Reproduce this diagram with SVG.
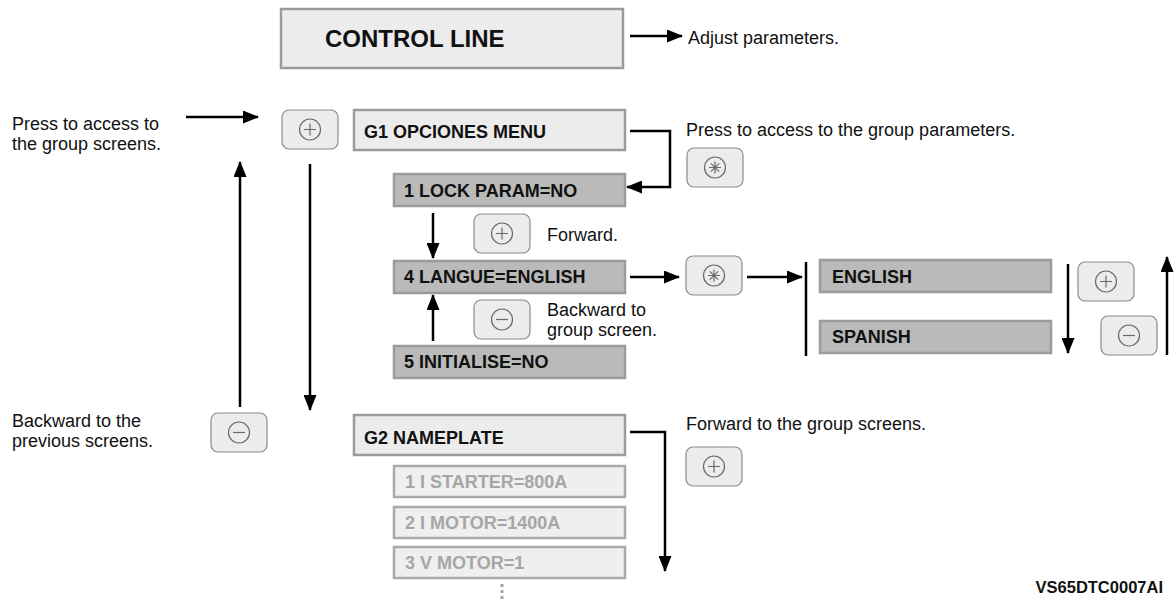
<svg xmlns="http://www.w3.org/2000/svg" xmlns:xlink="http://www.w3.org/1999/xlink" width="1176" height="601" viewBox="0 0 1176 601">
<style>
.lbox{fill:#ececec;stroke:#9b9b9b;stroke-width:2.5}
.dbox{fill:#bababa;stroke:#9b9b9b;stroke-width:2.5}
.gbox{fill:#efefef;stroke:#aaaaaa;stroke-width:2.5}
.btn{fill:#ececec;stroke:#8a8a8a;stroke-width:1.2}
.ring{fill:none;stroke:#6a6a6a;stroke-width:1.2}
.sym{fill:none;stroke:#6a6a6a;stroke-width:1.2}
.lbl{font-family:"Liberation Sans",Arial,sans-serif;font-weight:bold;font-size:18px;fill:#111}
.glbl{font-family:"Liberation Sans",Arial,sans-serif;font-weight:bold;font-size:18px;fill:#a6a6a6}
.txt{font-family:"Liberation Sans",Arial,sans-serif;font-size:18px;fill:#111}
.con{fill:none;stroke:#000;stroke-width:2.5}
.arr{fill:none;stroke:#000;stroke-width:2.5;marker-end:url(#ah)}
</style>
<defs>
<marker id="ah" markerWidth="16" markerHeight="13" refX="15" refY="6.5" orient="auto" markerUnits="userSpaceOnUse"><path d="M0,0 L16,6.5 L0,13 z" fill="#000"/></marker>
<g id="bplus"><rect x="0" y="0" width="56" height="39" rx="7" class="btn"/><circle cx="28" cy="19.5" r="10.5" class="ring"/><path d="M22,19.5 H34 M28,13.5 V25.5" class="sym"/></g>
<g id="bminus"><rect x="0" y="0" width="56" height="39" rx="7" class="btn"/><circle cx="28" cy="19.5" r="10.5" class="ring"/><path d="M22,19.5 H34" class="sym"/></g>
<g id="bstar"><rect x="0" y="0" width="56" height="39" rx="7" class="btn"/><circle cx="28" cy="19.5" r="10.5" class="ring"/><path d="M22,19.5 H34 M28,13.5 V25.5 M23.8,15.3 L32.2,23.7 M32.2,15.3 L23.8,23.7" class="sym"/></g>
</defs>
<rect width="1176" height="601" fill="#fff"/>

<g id="control-line"><rect x="281" y="9" width="342" height="59" class="lbox"/><text x="325" y="47" class="lbl" style="font-size:24px">CONTROL LINE</text></g>
<g id="adjust-label"><text x="688" y="44" class="txt">Adjust parameters.</text></g>

<g id="press-access-label"><text x="12" y="130" class="txt">Press to access to</text><text x="12" y="150" class="txt">the group screens.</text></g>
<g id="btn-plus-left"><use xlink:href="#bplus" x="282" y="110"/></g>
<g id="g1"><rect x="354" y="110" width="271" height="40" class="lbox"/><text x="364" y="138" class="lbl">G1 OPCIONES MENU</text></g>
<g id="group-params-label"><text x="686" y="136" class="txt">Press to access to the group parameters.</text></g>
<g id="btn-star-g1"><use xlink:href="#bstar" x="687" y="148"/></g>

<g id="lock-param"><rect x="394" y="174" width="231" height="32" class="dbox"/><text x="404" y="197" class="lbl">1 LOCK PARAM=NO</text></g>
<g id="btn-plus-fwd"><use xlink:href="#bplus" x="474" y="214"/></g>
<g id="forward-label"><text x="547" y="241" class="txt">Forward.</text></g>
<g id="langue"><rect x="394" y="261" width="231" height="32" class="dbox"/><text x="404" y="283" class="lbl">4 LANGUE=ENGLISH</text></g>
<g id="btn-minus-back"><use xlink:href="#bminus" x="474" y="300"/></g>
<g id="backward-group-label"><text x="547" y="316" class="txt">Backward to</text><text x="547" y="336" class="txt">group screen.</text></g>
<g id="initialise"><rect x="394" y="346" width="231" height="32" class="dbox"/><text x="404" y="368" class="lbl">5 INITIALISE=NO</text></g>

<g id="btn-star-langue"><use xlink:href="#bstar" x="686" y="256"/></g>
<g id="english"><rect x="820" y="260" width="231" height="32" class="dbox"/><text x="832" y="283" class="lbl">ENGLISH</text></g>
<g id="spanish"><rect x="820" y="321" width="231" height="32" class="dbox"/><text x="832" y="343" class="lbl">SPANISH</text></g>
<g id="btn-plus-right"><use xlink:href="#bplus" x="1078" y="262"/></g>
<g id="btn-minus-right"><use xlink:href="#bminus" x="1101" y="316"/></g>

<g id="backward-prev-label"><text x="12" y="427" class="txt">Backward to the</text><text x="12" y="447" class="txt">previous screens.</text></g>
<g id="btn-minus-left"><use xlink:href="#bminus" x="211" y="413"/></g>
<g id="g2"><rect x="354" y="415" width="271" height="40" class="lbox"/><text x="364" y="444" class="lbl">G2 NAMEPLATE</text></g>
<g id="forward-group-label"><text x="686" y="430" class="txt">Forward to the group screens.</text></g>
<g id="btn-plus-g2"><use xlink:href="#bplus" x="686" y="447"/></g>
<g id="starter"><rect x="394" y="466" width="231" height="31" class="gbox"/><text x="405" y="488" class="glbl">1 I STARTER=800A</text></g>
<g id="motor-i"><rect x="394" y="507" width="231" height="31" class="gbox"/><text x="405" y="529" class="glbl">2 I MOTOR=1400A</text></g>
<g id="motor-v"><rect x="394" y="547" width="231" height="31" class="gbox"/><text x="405" y="569" class="glbl">3 V MOTOR=1</text></g>
<g id="more-dots" fill="#a6a6a6"><rect x="500.5" y="584" width="3" height="3"/><rect x="500.5" y="590" width="3" height="3"/><rect x="500.5" y="596" width="3" height="3"/></g>
<g id="ref-code"><text x="1163" y="593" class="lbl" style="font-size:16.5px" text-anchor="end">VS65DTC0007AI</text></g>

<g id="connectors">
<line x1="630" y1="36" x2="682" y2="36" class="arr"/>
<line x1="186" y1="117" x2="258" y2="117" class="arr"/>
<line x1="240" y1="407" x2="240" y2="162" class="arr"/>
<line x1="310" y1="164" x2="310" y2="410" class="arr"/>
<polyline points="630,131 670,131 670,187 627,187" class="arr"/>
<line x1="433" y1="213" x2="433" y2="258" class="arr"/>
<line x1="433" y1="341" x2="433" y2="295" class="arr"/>
<line x1="630" y1="277" x2="679" y2="277" class="arr"/>
<line x1="747" y1="277" x2="802" y2="277" class="arr"/>
<line x1="806" y1="262" x2="806" y2="356" class="con"/>
<line x1="1068" y1="264" x2="1068" y2="353" class="arr"/>
<line x1="1167" y1="355" x2="1167" y2="257" class="arr"/>
<polyline points="630,432 665,432 665,571" class="arr"/>
</g>
</svg>
